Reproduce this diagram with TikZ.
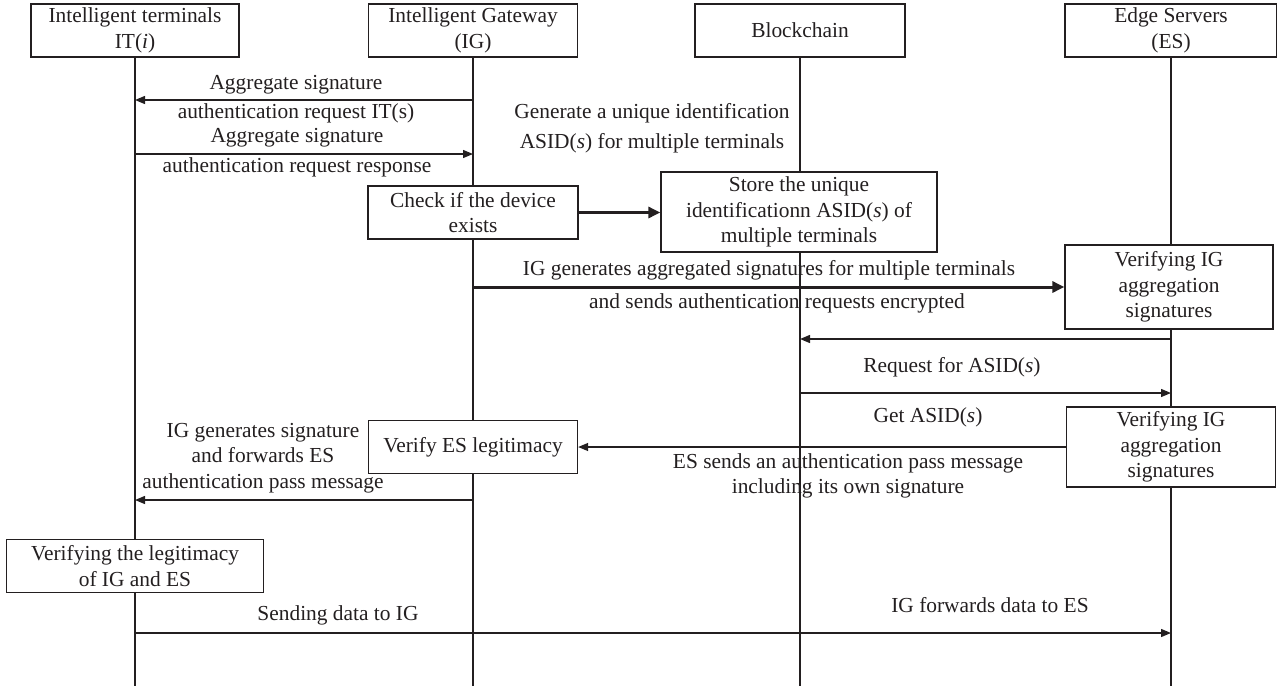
\documentclass[tikz,border=0pt]{standalone}
\usepackage{fontspec}
\setmainfont{Liberation Serif}
\usetikzlibrary{arrows.meta}
\definecolor{ink}{HTML}{231F20}
\begin{document}
\begin{tikzpicture}[x=1pt,y=-1pt,
  every node/.style={font=\fontsize{21.4}{25.5}\selectfont, text=ink},
  box/.style={draw=ink, line width=1.3pt, fill=white, align=center, inner sep=0pt, minimum height=53pt},
  life/.style={draw=ink, line width=1.3pt},
  msg/.style={draw=ink, line width=1.3pt, -{Triangle[length=10pt,width=8pt]}},
  thickmsg/.style={draw=ink, line width=3pt, -{Triangle[length=12pt,width=11pt]}},
  lbl/.style={align=center, inner sep=0pt}]
\useasboundingbox (0,0) rectangle (1277,686);

% message labels (lifelines are drawn over them)
\node[lbl] (l1a) at (296,85) {Aggregate signature};
\node[lbl] (l1b) at (296,113) {authentication request IT(s)};
\node[lbl] (l2a) at (297,138) {Aggregate signature};
\node[lbl] (l2b) at (297,167) {authentication request response};
\node[lbl, font=\fontsize{21.4}{30}\selectfont] (lgen) at (652,128) {Generate a unique identification\\ASID(\textit{s}) for multiple terminals};
\node[lbl] (l3a) at (769,270) {IG generates aggregated signatures for multiple terminals};
\node[lbl] (l3b) at (777,303) {and sends authentication requests encrypted};
\node[lbl] (l4) at (952,367) {Request for ASID(\textit{s})};
\node[lbl] (l5) at (928,417) {Get ASID(\textit{s})};
\node[lbl] (l6) at (848,476) {ES sends an authentication pass message\\including its own signature};
\node[lbl] (l7) at (263,458) {IG generates signature\\and forwards ES\\authentication pass message};
\node[lbl] (l8) at (338,615) {Sending data to IG};
\node[lbl] (l9) at (990,605) {IG forwards data to ES};

% participants
\node[box, minimum width=208pt] (it) at (135,30.5) {Intelligent terminals\\IT(\textit{i})};
\node[box, minimum width=209pt] (ig) at (473,30.5) {Intelligent Gateway\\(IG)};
\node[box, minimum width=210pt] (bc) at (800,30.5) {Blockchain};
\node[box, minimum width=212pt] (es) at (1171,30.5) {Edge Servers\\(ES)};

% lifelines
\draw[life] (it.south) -- (it |- 0,686);
\draw[life] (ig.south) -- (ig |- 0,686);
\draw[life] (bc.south) -- (bc |- 0,686);
\draw[life] (es.south) -- (es |- 0,686);

% activity boxes
\node[box, minimum width=210pt] (check) at (473,212.5) {Check if the device\\exists};
\node[box, minimum width=276pt, minimum height=80pt] (store) at (799,212) {Store the unique\\identificationn ASID(\textit{s}) of\\multiple terminals};
\node[box, minimum width=208pt, minimum height=84pt] (ver1) at (1169,287) {Verifying IG\\aggregation\\signatures};
\node[box, minimum width=209pt, minimum height=80pt] (ver2) at (1171,447) {Verifying IG\\aggregation\\signatures};
\node[box, minimum width=209pt] (vres) at (473,447) {Verify ES legitimacy};
\node[box, minimum width=257pt] (vleg) at (135,566) {Verifying the legitimacy\\of IG and ES};

% messages
\draw[msg] (ig |- 0,100) -- (it |- 0,100);
\draw[msg] (it |- 0,154) -- (ig |- 0,154);
\draw[thickmsg] (check.east) -- (check.east -| store.west);
\draw[thickmsg] (ig |- 0,287) -- (ver1.west);
\draw[msg] (es |- 0,339) -- (bc |- 0,339);
\draw[msg] (bc |- 0,393) -- (es |- 0,393);
\draw[msg] (ver2.west) -- (ver2.west -| vres.east);
\draw[msg] (ig |- 0,500) -- (it |- 0,500);
\draw[msg] (it |- 0,633) -- (es |- 0,633);
\end{tikzpicture}
\end{document}
